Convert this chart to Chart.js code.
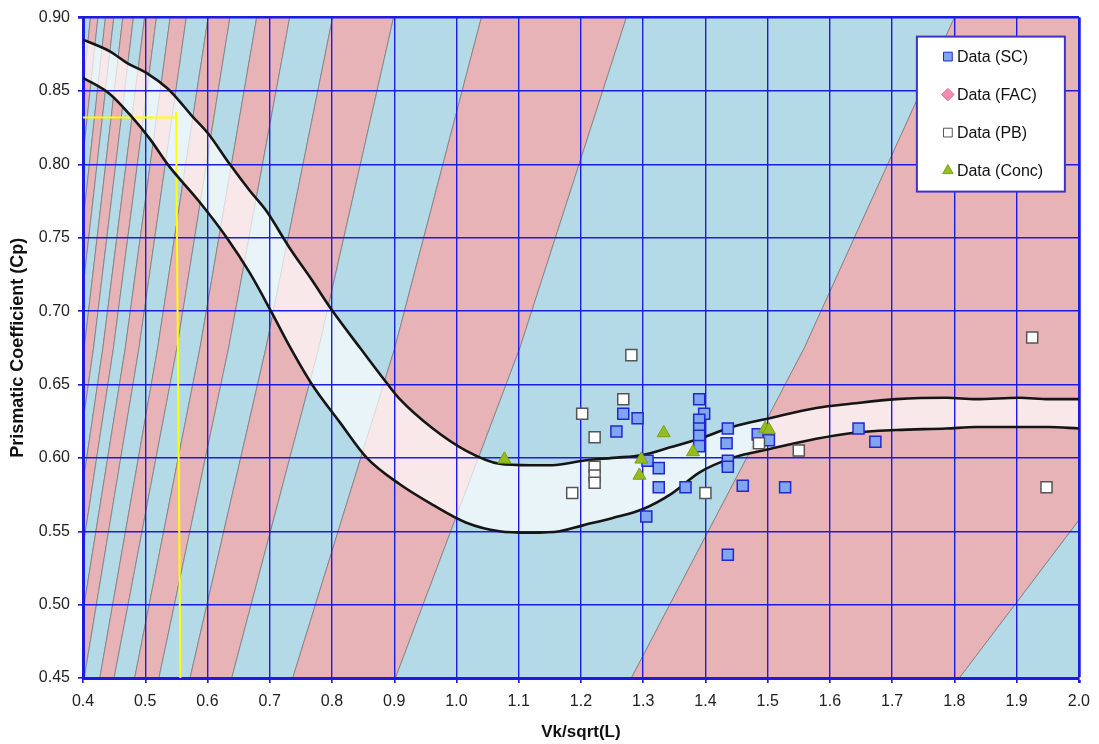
<!DOCTYPE html>
<html>
<head>
<meta charset="utf-8">
<script src="https://cdn.jsdelivr.net/npm/chart.js@4.4.1/dist/chart.umd.min.js"></script>
<style>
  html, body { margin: 0; padding: 0; background: #fff; }
  canvas { display: block; }
</style>
</head>
<body>
<canvas id="chart" width="1099" height="744"></canvas>
<script>
// tick labels
const xTicks = [0.4, 0.5, 0.6, 0.7, 0.8, 0.9, 1.0, 1.1, 1.2, 1.3, 1.4, 1.5, 1.6, 1.7, 1.8, 1.9, 2.0];
const yTicks = [0.45, 0.50, 0.55, 0.60, 0.65, 0.70, 0.75, 0.80, 0.85, 0.90];

// measured hulls
const scX = [1.268, 1.291, 1.257, 1.390, 1.398, 1.390, 1.390, 1.390, 1.390, 1.436, 1.434, 1.436, 1.436, 1.484, 1.502, 1.307, 1.325, 1.325, 1.368, 1.305, 1.460, 1.528, 1.436, 1.646, 1.673];
const scY = [0.630, 0.627, 0.618, 0.640, 0.630, 0.626, 0.620, 0.615, 0.608, 0.620, 0.610, 0.598, 0.594, 0.616, 0.612, 0.598, 0.593, 0.580, 0.580, 0.560, 0.581, 0.580, 0.534, 0.620, 0.611];
const facX = [];
const facY = [];
const pbX = [1.281, 1.268, 1.202, 1.222, 1.222, 1.222, 1.222, 1.186, 1.400, 1.486, 1.550, 1.925, 1.948];
const pbY = [0.670, 0.640, 0.630, 0.614, 0.594, 0.588, 0.583, 0.576, 0.576, 0.610, 0.605, 0.682, 0.580];
const concX = [1.077, 1.333, 1.297, 1.294, 1.380, 1.496, 1.502];
const concY = [0.599, 0.617, 0.599, 0.588, 0.604, 0.620, 0.619];
const seriesNames = ['Data (SC)', 'Data (FAC)', 'Data (PB)', 'Data (Conc)'];

// recommended Cp band, upper and lower limits
const upperX = [0.400, 0.443, 0.471, 0.503, 0.535, 0.551, 0.575, 0.601, 0.636, 0.668, 0.695, 0.732, 0.768, 0.801, 0.845, 0.888, 0.909, 0.962, 1.015, 1.069, 1.118, 1.154, 1.203, 1.251, 1.299, 1.342, 1.390, 1.443, 1.503, 1.578, 1.636, 1.707, 1.787, 1.835, 1.904, 1.952, 2.000];
const upperY = [0.885, 0.877, 0.869, 0.862, 0.852, 0.845, 0.833, 0.821, 0.800, 0.782, 0.768, 0.743, 0.721, 0.700, 0.675, 0.651, 0.640, 0.620, 0.605, 0.596, 0.595, 0.595, 0.598, 0.600, 0.602, 0.607, 0.613, 0.621, 0.627, 0.634, 0.637, 0.640, 0.641, 0.640, 0.641, 0.640, 0.640];
const lowerX = [0.400, 0.443, 0.475, 0.508, 0.536, 0.586, 0.631, 0.668, 0.702, 0.732, 0.768, 0.813, 0.856, 0.909, 0.962, 1.015, 1.069, 1.118, 1.166, 1.203, 1.251, 1.299, 1.347, 1.390, 1.443, 1.503, 1.578, 1.636, 1.707, 1.787, 1.835, 1.904, 1.952, 2.000];
const lowerY = [0.859, 0.848, 0.834, 0.817, 0.800, 0.775, 0.750, 0.726, 0.700, 0.676, 0.650, 0.624, 0.600, 0.582, 0.568, 0.556, 0.550, 0.549, 0.550, 0.554, 0.559, 0.565, 0.576, 0.590, 0.600, 0.606, 0.613, 0.617, 0.619, 0.620, 0.621, 0.621, 0.621, 0.620];

// hump/hollow stripe boundaries (x at Cp = 0.45, 0.675, 0.90), right to left
const stripeTopX    = [2.550, 1.800, 1.273, 1.040, 0.899, 0.801, 0.732, 0.679, 0.636, 0.601, 0.566, 0.540, 0.518, 0.499, 0.481, 0.464, 0.4495, 0.436, 0.424, 0.412, 0.402, 0.392];
const stripeMidX    = [2.210, 1.559, 1.102, 0.901, 0.779, 0.694, 0.634, 0.588, 0.551, 0.520, 0.490, 0.468, 0.449, 0.432, 0.417, 0.402, 0.389, 0.378, 0.367, 0.357, 0.348, 0.339];
const stripeBottomX = [1.808, 1.281, 0.902, 0.737, 0.639, 0.572, 0.522, 0.483, 0.450, 0.427, 0.402, 0.383, 0.368, 0.354, 0.341, 0.329, 0.319, 0.309, 0.301, 0.292, 0.285, 0.278];
const stripeLevels = [0.45, 0.675, 0.90];

// yellow design lines
const guideHX = [0.400, 0.551];
const guideHY = [0.832, 0.832];
const guideVX = [0.5565, 0.5495];
const guideVY = [0.450, 0.836];

const FONT = "'Liberation Sans', Arial, sans-serif";
const GRID = 'rgb(28,28,225)';
const PINK = '#e7b3b7';
const BLUE = '#b4d9e7';

const pts = (xs, ys) => xs.map((x, i) => ({ x, y: ys[i] }));

function stripeSet(xs, ys, color) {
  return {
    label: 'stripe', data: pts(xs, ys), order: 7,
    backgroundColor: color, borderColor: 'rgba(120,120,120,0.75)', borderWidth: 1,
    pointRadius: 0, fill: 'shape', tension: 0
  };
}

const stripes = [];
const lv = stripeLevels;
stripes.push(stripeSet(
  [3, stripeBottomX[0], stripeMidX[0], stripeTopX[0], 3],
  [lv[0], lv[0], lv[1], lv[2], lv[2]], BLUE));
for (let k = 0; k < stripeTopX.length - 1; k++) {
  stripes.push(stripeSet(
    [stripeBottomX[k + 1], stripeMidX[k + 1], stripeTopX[k + 1], stripeTopX[k], stripeMidX[k], stripeBottomX[k]],
    [lv[0], lv[1], lv[2], lv[2], lv[1], lv[0]],
    k % 2 === 0 ? PINK : BLUE));
}

const markerSets = [
  { label: seriesNames[0], data: pts(scX, scY), order: 3, showLine: false,
    pointStyle: 'rect', pointRadius: 7.8, backgroundColor: 'rgb(128,166,242)', borderColor: 'rgb(30,40,205)', borderWidth: 1.5 },
  { label: seriesNames[1], data: pts(facX, facY), order: 2, showLine: false,
    pointStyle: 'rectRot', pointRadius: 7, backgroundColor: 'rgb(240,140,175)', borderColor: 'rgb(220,110,150)', borderWidth: 1 },
  { label: seriesNames[2], data: pts(pbX, pbY), order: 1, showLine: false,
    pointStyle: 'rect', pointRadius: 7.8, backgroundColor: '#ffffff', borderColor: '#555555', borderWidth: 1.5 },
  { label: seriesNames[3], data: pts(concX, concY), order: 0, showLine: false,
    pointStyle: 'triangle', pointRadius: 7.5, backgroundColor: 'rgb(150,188,30)', borderColor: 'rgb(120,160,20)', borderWidth: 1 }
];

const lineSets = [
  { label: 'upper', data: pts(upperX, upperY), order: 4, borderColor: '#151515', borderWidth: 2.6,
    pointRadius: 0, fill: false, cubicInterpolationMode: 'monotone' },
  { label: 'lower', data: pts(lowerX, lowerY), order: 4, borderColor: '#151515', borderWidth: 2.6,
    pointRadius: 0, fill: false, cubicInterpolationMode: 'monotone' },
  { label: 'guideH', data: pts(guideHX, guideHY), order: 5, borderColor: '#ffff00', borderWidth: 2, pointRadius: 0, fill: false },
  { label: 'guideV', data: pts(guideVX, guideVY), order: 5, borderColor: '#ffff00', borderWidth: 2, pointRadius: 0, fill: false },
  { label: 'band', data: pts(upperX, upperY), order: 6, borderWidth: 0, borderColor: 'rgba(0,0,0,0)',
    pointRadius: 0, fill: { target: 5 }, backgroundColor: 'rgba(255,255,255,0.7)', cubicInterpolationMode: 'monotone' }
];

// draw the blue grid again above the coloured background
const gridAbovePlugin = {
  id: 'gridAbove',
  afterDatasetDraw(chart, args) {
    if (chart.data.datasets[args.index].label !== 'band') return;
    const ctx = chart.ctx;
    ['x', 'y'].forEach(id => {
      ctx.save();
      chart.scales[id].drawGrid(chart.chartArea);
      ctx.restore();
    });
    ['x', 'y'].forEach(id => {
      const s = chart.scales[id];
      if (s.drawBorder) { ctx.save(); s.drawBorder(); ctx.restore(); }
    });
  }
};

// boxed legend inside the plot, top right
const legendBoxPlugin = {
  id: 'legendBox',
  afterDraw(chart) {
    const ctx = chart.ctx;
    const a = chart.chartArea;
    const bx = a.right - 162, by = a.top + 19, bw = 148, bh = 155;
    ctx.save();
    ctx.fillStyle = '#ffffff';
    ctx.fillRect(bx, by, bw, bh);
    ctx.strokeStyle = 'rgb(60,50,200)';
    ctx.lineWidth = 2;
    ctx.strokeRect(bx, by, bw, bh);
    ctx.font = '16px ' + FONT;
    ctx.textBaseline = 'middle';
    ctx.textAlign = 'left';
    for (let i = 0; i < seriesNames.length; i++) {
      const ds = chart.data.datasets[i];
      const y = by + 20 + i * 38;
      ctx.fillStyle = ds.backgroundColor;
      ctx.strokeStyle = ds.borderColor;
      ctx.lineWidth = 1;
      Chart.helpers.drawPoint(ctx, {
        pointStyle: ds.pointStyle,
        radius: ds.pointStyle === 'triangle' ? 6 : 6.2,
        rotation: 0, borderWidth: 1
      }, bx + 31, y);
      ctx.fillStyle = '#111';
      ctx.fillText(ds.label, bx + 40, y + 1);
    }
    ctx.restore();
  }
};

const tickFont = { family: FONT, size: 16 };
const titleFont = { family: FONT, size: 18, weight: 'bold' };

new Chart(document.getElementById('chart'), {
  type: 'line',
  data: { datasets: [...markerSets, ...lineSets, ...stripes] },
  plugins: [gridAbovePlugin, legendBoxPlugin],
  options: {
    responsive: false,
    animation: false,
    events: [],
    layout: { padding: { top: 16, right: 19, bottom: 0, left: 0 } },
    plugins: { legend: { display: false }, tooltip: { enabled: false } },
    scales: {
      x: {
        type: 'linear', min: 0.4, max: 2.0,
        afterBuildTicks: s => { s.ticks = xTicks.map(v => ({ value: v })); },
        afterFit: s => { s.height = 66; },
        ticks: { callback: v => v.toFixed(1), color: '#222', font: tickFont, padding: 9, maxRotation: 0, autoSkip: false },
        grid: { color: GRID, lineWidth: c => (c.tick && c.tick.value === 2.0) ? 2.5 : 1.4, tickLength: 5 },
        border: { color: GRID, width: 3 },
        title: { display: true, text: 'Vk/sqrt(L)', color: '#111', font: { family: FONT, size: 17, weight: 'bold' }, padding: { top: 0, bottom: 1 } }
      },
      y: {
        type: 'linear', min: 0.45, max: 0.90,
        afterBuildTicks: s => { s.ticks = yTicks.map(v => ({ value: v })); },
        afterFit: s => { s.width = 83; },
        ticks: { callback: v => v.toFixed(2), color: '#222', font: tickFont, padding: 8, autoSkip: false },
        grid: { color: GRID, lineWidth: c => (c.tick && c.tick.value === 0.9) ? 2.5 : 1.4, tickLength: 5 },
        border: { color: GRID, width: 3 },
        title: { display: true, text: 'Prismatic Coefficient (Cp)', color: '#111', font: titleFont, padding: { top: 7, bottom: 0 } }
      }
    }
  }
});
</script>
</body>
</html>
